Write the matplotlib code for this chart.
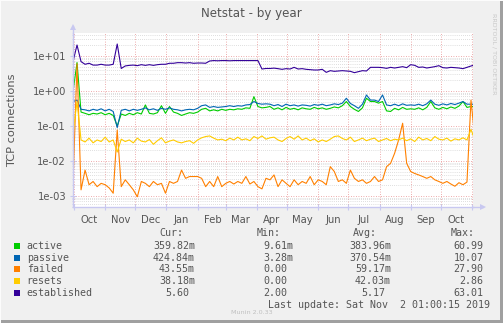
import pandas as pd
import matplotlib.pyplot as plt
import matplotlib.dates as mdates
from matplotlib.lines import Line2D
from matplotlib.patches import Rectangle
from matplotlib.ticker import LogLocator, FuncFormatter, NullFormatter

# one sample every 4 days, starting 2018-09-30
dates = pd.date_range("2018-09-30", periods=101, freq="4D")

active = [
    0.96, 6.5, 0.25, 0.23, 0.21, 0.23, 0.22, 0.24, 0.21, 0.23,
    0.20, 0.10, 0.22, 0.20, 0.23, 0.21, 0.24, 0.22, 0.40, 0.23,
    0.22, 0.24, 0.38, 0.23, 0.36, 0.25, 0.23, 0.20, 0.22, 0.24,
    0.23, 0.25, 0.30, 0.32, 0.27, 0.29, 0.27, 0.30, 0.28, 0.30,
    0.29, 0.31, 0.30, 0.33, 0.32, 0.69, 0.36, 0.33, 0.34, 0.36,
    0.30, 0.33, 0.29, 0.34, 0.30, 0.32, 0.29, 0.33, 0.31, 0.30,
    0.34, 0.31, 0.33, 0.30, 0.32, 0.35, 0.33, 0.38, 0.50, 0.36,
    0.30, 0.26, 0.33, 0.62, 0.50, 0.50, 0.45, 0.50, 0.27, 0.26,
    0.32, 0.29, 0.34, 0.30, 0.31, 0.30, 0.33, 0.29, 0.34, 0.50,
    0.33, 0.30, 0.34, 0.31, 0.35, 0.32, 0.37, 0.50, 0.34, 0.36,
    0.36,
]
passive = [
    0.50, 0.55, 0.30, 0.29, 0.27, 0.30, 0.28, 0.31, 0.27, 0.30,
    0.26, 0.09, 0.28, 0.30, 0.27, 0.30, 0.28, 0.30, 0.33, 0.29,
    0.31, 0.28, 0.32, 0.30, 0.33, 0.30, 0.29, 0.27, 0.29, 0.30,
    0.29, 0.32, 0.38, 0.40, 0.34, 0.36, 0.34, 0.35, 0.36, 0.38,
    0.36, 0.38, 0.37, 0.40, 0.41, 0.50, 0.44, 0.42, 0.43, 0.42,
    0.38, 0.41, 0.36, 0.42, 0.38, 0.40, 0.37, 0.40, 0.39, 0.37,
    0.41, 0.39, 0.42, 0.38, 0.40, 0.43, 0.41, 0.45, 0.62, 0.44,
    0.38, 0.32, 0.42, 0.77, 0.55, 0.55, 0.50, 0.77, 0.40, 0.38,
    0.42, 0.38, 0.43, 0.39, 0.40, 0.39, 0.42, 0.38, 0.43, 0.55,
    0.42, 0.39, 0.43, 0.40, 0.44, 0.41, 0.45, 0.50, 0.42, 0.42,
    0.42,
]
failed = [
    0.0021, 6.0, 0.0015, 0.0055, 0.0021, 0.0026, 0.00185, 0.0023, 0.0021, 0.0017,
    0.0012, 0.077, 0.00185, 0.0029, 0.0021, 0.0015, 0.00095, 0.0026, 0.0023, 0.00185,
    0.0026, 0.0021, 0.0023, 0.0012, 0.0026, 0.0023, 0.0026, 0.0055, 0.0032, 0.0036,
    0.0036, 0.0036, 0.0032, 0.00185, 0.0026, 0.00185, 0.0036, 0.00185, 0.0023, 0.0026,
    0.0022, 0.0026, 0.0023, 0.0036, 0.0022, 0.0026, 0.00185, 0.0016, 0.0032, 0.0029,
    0.0040, 0.00185, 0.0029, 0.0023, 0.00185, 0.0029, 0.0021, 0.0026, 0.0023, 0.0036,
    0.0021, 0.0029, 0.0026, 0.0021, 0.0069, 0.0050, 0.0026, 0.0029, 0.0023, 0.0055,
    0.0032, 0.0026, 0.0029, 0.0023, 0.0026, 0.0036, 0.0026, 0.0029, 0.0069, 0.0086,
    0.0166, 0.040, 0.12, 0.0086, 0.0050, 0.0044, 0.0040, 0.0036, 0.0032, 0.0036,
    0.0029, 0.0026, 0.0023, 0.0026, 0.0022, 0.0019, 0.0024, 0.0021, 0.0025, 0.55,
    0.040,
]
resets = [
    0.060, 0.50, 0.040, 0.035, 0.045, 0.033, 0.040, 0.036, 0.048, 0.035,
    0.040, 0.018, 0.042, 0.036, 0.040, 0.033, 0.045, 0.037, 0.035, 0.041,
    0.030, 0.038, 0.046, 0.033, 0.037, 0.040, 0.035, 0.033, 0.036, 0.038,
    0.032, 0.040, 0.046, 0.050, 0.052, 0.045, 0.040, 0.042, 0.038, 0.045,
    0.040, 0.048, 0.040, 0.043, 0.038, 0.050, 0.044, 0.052, 0.042, 0.046,
    0.048, 0.040, 0.036, 0.044, 0.050, 0.042, 0.052, 0.040, 0.045, 0.038,
    0.043, 0.035, 0.040, 0.036, 0.042, 0.050, 0.052, 0.044, 0.040, 0.048,
    0.036, 0.040, 0.045, 0.038, 0.042, 0.045, 0.036, 0.040, 0.044, 0.038,
    0.042, 0.040, 0.045, 0.038, 0.043, 0.036, 0.048, 0.040, 0.044, 0.038,
    0.050, 0.042, 0.040, 0.045, 0.037, 0.043, 0.040, 0.046, 0.040, 0.080,
    0.038,
]
established = [
    6.9, 20.6, 6.9, 5.8, 6.2, 5.5, 5.5, 5.8, 5.5, 5.5,
    5.8, 22.0, 4.4, 5.2, 5.4, 5.5, 5.3, 5.65, 5.4, 5.65,
    5.4, 5.65, 5.8, 5.8, 6.2, 6.2, 6.45, 6.45, 6.3, 6.45,
    6.2, 6.3, 6.3, 6.2, 7.2, 7.4, 7.3, 7.4, 7.4, 7.3,
    7.4, 7.4, 7.4, 7.4, 7.4, 7.4, 7.4, 4.25, 4.4, 4.4,
    4.5, 4.35, 4.16, 4.35, 4.25, 4.74, 4.25, 4.35, 4.16, 4.07,
    3.98, 3.98, 4.16, 3.41, 3.81, 3.65, 3.73, 3.81, 3.73, 3.65,
    3.34, 3.57, 3.81, 3.73, 4.74, 4.74, 4.74, 4.64, 4.44, 4.74,
    4.54, 4.74, 4.96, 4.64, 5.65, 5.41, 4.74, 4.85, 4.54, 4.74,
    4.96, 5.29, 4.64, 4.54, 4.74, 4.64, 4.54, 4.35, 4.74, 5.18,
    5.6,
]

names = ["active", "passive", "failed", "resets", "established"]
colors = ["#00CC00", "#0066B3", "#FF8000", "#FFCC00", "#330099"]
cur = ["359.82m", "424.84m", "43.55m", "38.18m", "5.60"]
vmin = ["9.61m", "3.28m", "0.00", "0.00", "2.00"]
avg = ["383.96m", "370.54m", "59.17m", "42.03m", "5.17"]
vmax = ["60.99", "10.07", "27.90", "2.86", "63.01"]

W, H = 503, 323
fig = plt.figure(figsize=(W / 100, H / 100), dpi=100)
fig.patch.set_facecolor("#F0F0F0")


def fx(px):
    return px / W


def fy(py):
    return 1 - py / H


# 3D-ish frame
fig.add_artist(Rectangle((fx(W - 3), 0), fx(3), 1, transform=fig.transFigure, color="#A0A0A0", lw=0))
fig.add_artist(Rectangle((0, 0), 1, 3 / H, transform=fig.transFigure, color="#A0A0A0", lw=0))
fig.add_artist(Rectangle((0, fy(1)), 1, 1 / H, transform=fig.transFigure, color="#FCFCFC", lw=0))
fig.add_artist(Rectangle((0, 0), fx(1), 1, transform=fig.transFigure, color="#FCFCFC", lw=0))

left, right, top, bottom = 73, 473, 33, 207
ax = fig.add_axes([fx(left), fy(bottom), fx(right - left), (bottom - top) / H])
ax.set_facecolor("white")

datasets = [active, passive, failed, resets, established]
for name, color, vals in zip(names, colors, datasets):
    ax.plot(dates, vals, color=color, lw=0.8, label=name)

ax.set_yscale("log")
ax.set_ylim(4.85e-4, 45.4)
ax.set_xlim(pd.Timestamp("2018-09-30"), pd.Timestamp("2019-11-02"))

ax.yaxis.set_major_locator(LogLocator(base=10, numticks=20))
ax.yaxis.set_minor_locator(LogLocator(base=10, subs=range(2, 10), numticks=20))
ax.yaxis.set_major_formatter(FuncFormatter(lambda v, p: f"{v:.0e}"))
ax.yaxis.set_minor_formatter(NullFormatter())

ax.xaxis.set_major_locator(mdates.MonthLocator(bymonthday=1))
ax.xaxis.set_major_formatter(NullFormatter())
ax.xaxis.set_minor_locator(mdates.MonthLocator(bymonthday=16))
ax.xaxis.set_minor_formatter(mdates.DateFormatter("%b"))

axis_col = "#C8C8F0"
text_col = "#555555"
ax.grid(True, which="major", axis="both", color="#E89090", ls=(0, (1, 2)), lw=0.6)
ax.grid(True, which="minor", axis="y", color="#C0C0C0", ls=(0, (1, 2)), lw=0.5)
ax.tick_params(axis="y", which="major", direction="inout", length=4, color=axis_col,
               labelsize=7.2, labelcolor=text_col, pad=3)
ax.tick_params(axis="y", which="minor", direction="inout", length=2, color=axis_col)
ax.tick_params(axis="x", which="major", direction="inout", length=4, color=axis_col)
ax.tick_params(axis="x", which="minor", length=0, labelsize=7.2, labelcolor=text_col, pad=6)

for s in ["top", "right"]:
    ax.spines[s].set_visible(False)
for s in ["left", "bottom"]:
    ax.spines[s].set_color(axis_col)
    ax.spines[s].set_linewidth(1.0)

# axis arrows
fig.add_artist(Line2D([fx(left), fx(left)], [fy(top), fy(26)], color=axis_col, lw=1.0))
fig.add_artist(Line2D([fx(right), fx(483)], [fy(bottom), fy(bottom)], color=axis_col, lw=1.0))
fig.add_artist(Line2D([fx(left)], [fy(27)], marker="^", ms=4, color=axis_col, mew=0))
fig.add_artist(Line2D([fx(483)], [fy(bottom)], marker=">", ms=4, color=axis_col, mew=0))

fig.text(fx(251), fy(14), "Netstat - by year", ha="center", va="center", fontsize=8.6, color=text_col)
fig.text(fx(12), fy(120), "TCP connections", ha="center", va="center", rotation=90,
         fontsize=8.2, color=text_col)
fig.text(fx(494), fy(54), "RRDTOOL / TOBI OETIKER", ha="center", va="center", rotation=270,
         fontsize=4.6, color="#C8C8C8")

# legend table
mono = "DejaVu Sans Mono"
fs = 7.2
cw = 6.0
col_end = [195, 293.5, 391, 489.5]
head_end = [183, 281, 377, 475]
for h, xe in zip(["Cur:", "Min:", "Avg:", "Max:"], head_end):
    fig.text(fx(xe), fy(233), h, ha="right", va="center", family=mono, fontsize=fs, color=text_col)

row_y = [245.7, 257.7, 269.3, 281.0, 293.3]
for k, (name, color) in enumerate(zip(names, colors)):
    y = row_y[k]
    fig.add_artist(Rectangle((fx(14), fy(y + 3)), fx(6), 6 / H, transform=fig.transFigure,
                             color=color, lw=0))
    fig.text(fx(26.7), fy(y), name, ha="left", va="center", family=mono, fontsize=fs, color=text_col)
    for col, xe in zip([cur, vmin, avg, vmax], col_end):
        s = col[k]
        xr = xe if s[-1].isalpha() else xe - cw
        fig.text(fx(xr), fy(y), s, ha="right", va="center", family=mono, fontsize=fs, color=text_col)

fig.text(fx(489.5), fy(305), "Last update: Sat Nov  2 01:00:15 2019", ha="right", va="center",
         family=mono, fontsize=fs, color=text_col)
fig.text(fx(252), fy(313), "Munin 2.0.33", ha="center", va="center", fontsize=4.6, color="#C0C0C0")

fig.savefig("out.png", dpi=100, facecolor=fig.get_facecolor())
plt.close(fig)
